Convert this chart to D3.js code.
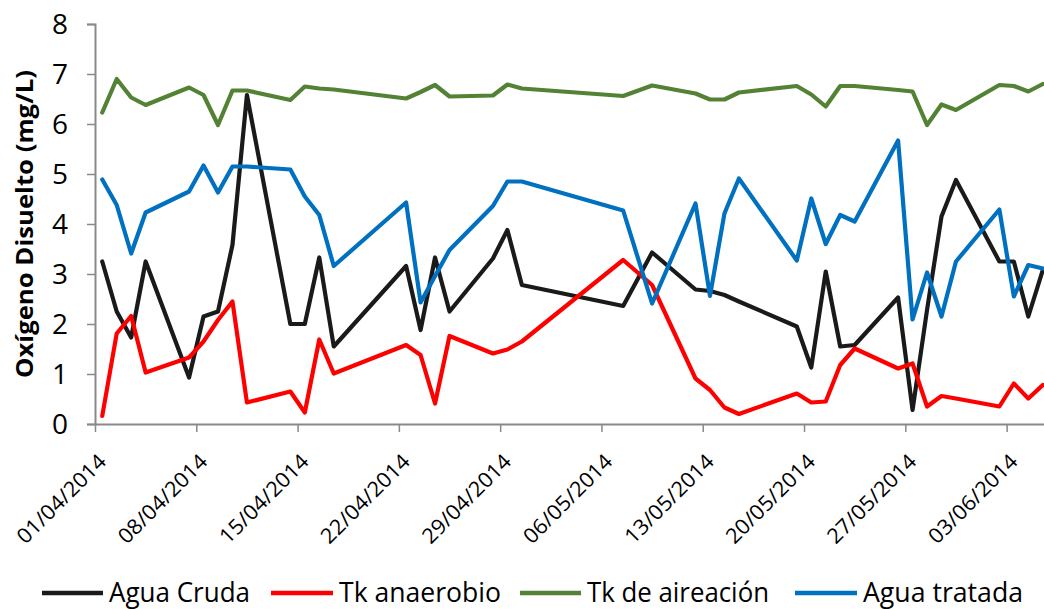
<!DOCTYPE html>
<html>
<head>
<meta charset="utf-8">
<script src="https://cdn.jsdelivr.net/npm/d3@7"></script>
<style>
  html, body { margin: 0; padding: 0; background: #fff; }
  svg { display: block; }
  text { font-family: "Open Sans", "Noto Sans", sans-serif; fill: #000; }
</style>
</head>
<body>
<svg id="chart" width="1044" height="609"></svg>
<script>
// ---------- data ----------
const dates = ["2014-04-01","2014-04-02","2014-04-03","2014-04-04","2014-04-07","2014-04-08","2014-04-09","2014-04-10","2014-04-11",
  "2014-04-14","2014-04-15","2014-04-16","2014-04-17","2014-04-22","2014-04-23","2014-04-24","2014-04-25","2014-04-28","2014-04-29",
  "2014-04-30","2014-05-07","2014-05-09","2014-05-12","2014-05-13","2014-05-14","2014-05-15","2014-05-19","2014-05-20","2014-05-21",
  "2014-05-22","2014-05-23","2014-05-26","2014-05-27","2014-05-28","2014-05-29","2014-05-30","2014-06-02","2014-06-03","2014-06-04","2014-06-05"];

const aguaCruda = [3.25,2.25,1.73,3.25,0.93,2.15,2.25,3.58,6.58,2.0,2.0,3.33,1.55,3.16,1.88,3.33,2.25,3.31,3.88,2.78,
  2.36,3.43,2.69,2.66,2.58,2.45,1.95,1.13,3.05,1.55,1.58,2.53,0.28,2.28,4.15,4.88,3.25,3.25,2.15,3.08];
const tkAnaerobio = [0.16,1.81,2.16,1.03,1.33,1.65,2.08,2.45,0.43,0.65,0.23,1.69,1.01,1.58,1.38,0.41,1.76,1.41,1.49,1.65,
  3.28,2.78,0.91,0.68,0.33,0.20,0.61,0.43,0.45,1.18,1.51,1.11,1.21,0.35,0.56,0.51,0.35,0.81,0.51,0.78];
const tkAireacion = [6.23,6.90,6.53,6.38,6.73,6.58,5.98,6.67,6.67,6.48,6.75,6.71,6.69,6.51,6.64,6.78,6.55,6.57,6.79,6.71,
  6.56,6.77,6.61,6.49,6.49,6.63,6.76,6.59,6.35,6.76,6.76,6.68,6.65,5.98,6.39,6.28,6.78,6.76,6.65,6.80];
const aguaTratada = [4.89,4.38,3.41,4.23,4.65,5.17,4.63,5.15,5.15,5.09,4.55,4.18,3.16,4.43,2.43,2.96,3.48,4.36,4.85,4.85,
  4.27,2.41,4.41,2.56,4.21,4.91,3.27,4.51,3.60,4.18,4.05,5.67,2.09,3.03,2.15,3.25,4.29,2.55,3.18,3.11];

const seriesNames = ["Agua Cruda","Tk anaerobio","Tk de aireación","Agua tratada"];
const seriesColors = ["#1a1a1a","#ff0000","#548235","#0070c0"];
const xTickDates = ["2014-04-01","2014-04-08","2014-04-15","2014-04-22","2014-04-29","2014-05-06","2014-05-13","2014-05-20","2014-05-27","2014-06-03"];
const yTicks = [0,1,2,3,4,5,6,7,8];
const yTitle = "Oxígeno Disuelto (mg/L)";
const axisStart = "2014-04-01", axisEnd = "2014-06-06";

// ---------- layout ----------
const svg = d3.select("#chart");
const parse = d3.utcParse("%Y-%m-%d");
const fmt = d3.utcFormat("%d/%m/%Y");
const plotLeft = 95, plotTop = 24, plotBottom = 424;
const dayPx = 14.47;
const x = d3.scaleUtc()
  .domain([parse(axisStart), parse(axisEnd)])
  .range([plotLeft, plotLeft + 66 * dayPx]);
const y = d3.scaleLinear().domain([0, 8]).range([plotBottom, plotTop]);
const halfDay = d => (x(d3.utcDay.offset(d, 1)) - x(d)) / 2;

const axisColor = "#898989";

// y axis
const gy = svg.append("g").attr("transform", `translate(${plotLeft},0)`)
  .call(d3.axisLeft(y).tickValues(yTicks).tickSize(8).tickPadding(19).tickFormat(d3.format("d")));
gy.select(".domain").attr("stroke", axisColor).attr("stroke-width", 2);
gy.selectAll(".tick line").attr("stroke", axisColor).attr("stroke-width", 1.5);
gy.selectAll(".tick text").attr("font-size", 28).attr("font-family", "Open Sans, sans-serif").attr("fill", "#000").attr("dy", "0.35em");

// x axis
const gx = svg.append("g").attr("transform", `translate(0,${plotBottom})`)
  .call(d3.axisBottom(x).tickValues(xTickDates.map(parse)).tickSize(8).tickSizeOuter(0).tickFormat(fmt));
gx.select(".domain").attr("stroke", axisColor).attr("stroke-width", 2);
gx.selectAll(".tick line").attr("stroke", axisColor).attr("stroke-width", 1.5);
gx.selectAll(".tick text")
  .attr("font-size", 21).attr("font-family", "Open Sans, sans-serif").attr("fill", "#000")
  .attr("text-anchor", "end")
  .attr("textLength", 116).attr("lengthAdjust", "spacingAndGlyphs")
  .attr("x", 0).attr("y", 0).attr("dy", 0)
  .attr("transform", "translate(12,39) rotate(-45)");

// y title
svg.append("text")
  .attr("transform", `translate(33,${(70 + 378) / 2}) rotate(-90)`)
  .attr("text-anchor", "middle")
  .attr("font-weight", "bold").attr("font-size", 23)
  .attr("textLength", 308).attr("lengthAdjust", "spacingAndGlyphs")
  .text(yTitle);

// lines
const seriesValues = [aguaCruda, tkAnaerobio, tkAireacion, aguaTratada];
const line = d3.line()
  .x(p => x(p.date) + halfDay(p.date))
  .y(p => y(p.v));
seriesValues.forEach((vals, i) => {
  const pts = dates.map((d, j) => ({ date: parse(d), v: vals[j] }));
  svg.append("path").datum(pts)
    .attr("fill", "none")
    .attr("stroke", seriesColors[i])
    .attr("stroke-width", 4.2)
    .attr("stroke-linejoin", "round")
    .attr("stroke-linecap", "round")
    .attr("d", line);
});

// legend
const legendLines = [[42, 103], [271, 333], [520, 581], [795, 857]];
const legendTextW = [141, 162, 182, 160];
const lg = svg.append("g");
seriesNames.forEach((name, i) => {
  const [x0, x1] = legendLines[i];
  lg.append("line").attr("x1", x0).attr("x2", x1).attr("y1", 593).attr("y2", 593)
    .attr("stroke", seriesColors[i]).attr("stroke-width", 4.5);
  lg.append("text").attr("x", x1 + 6).attr("y", 602)
    .attr("font-size", 27)
    .attr("textLength", legendTextW[i]).attr("lengthAdjust", "spacingAndGlyphs")
    .text(name);
});
</script>
</body>
</html>
